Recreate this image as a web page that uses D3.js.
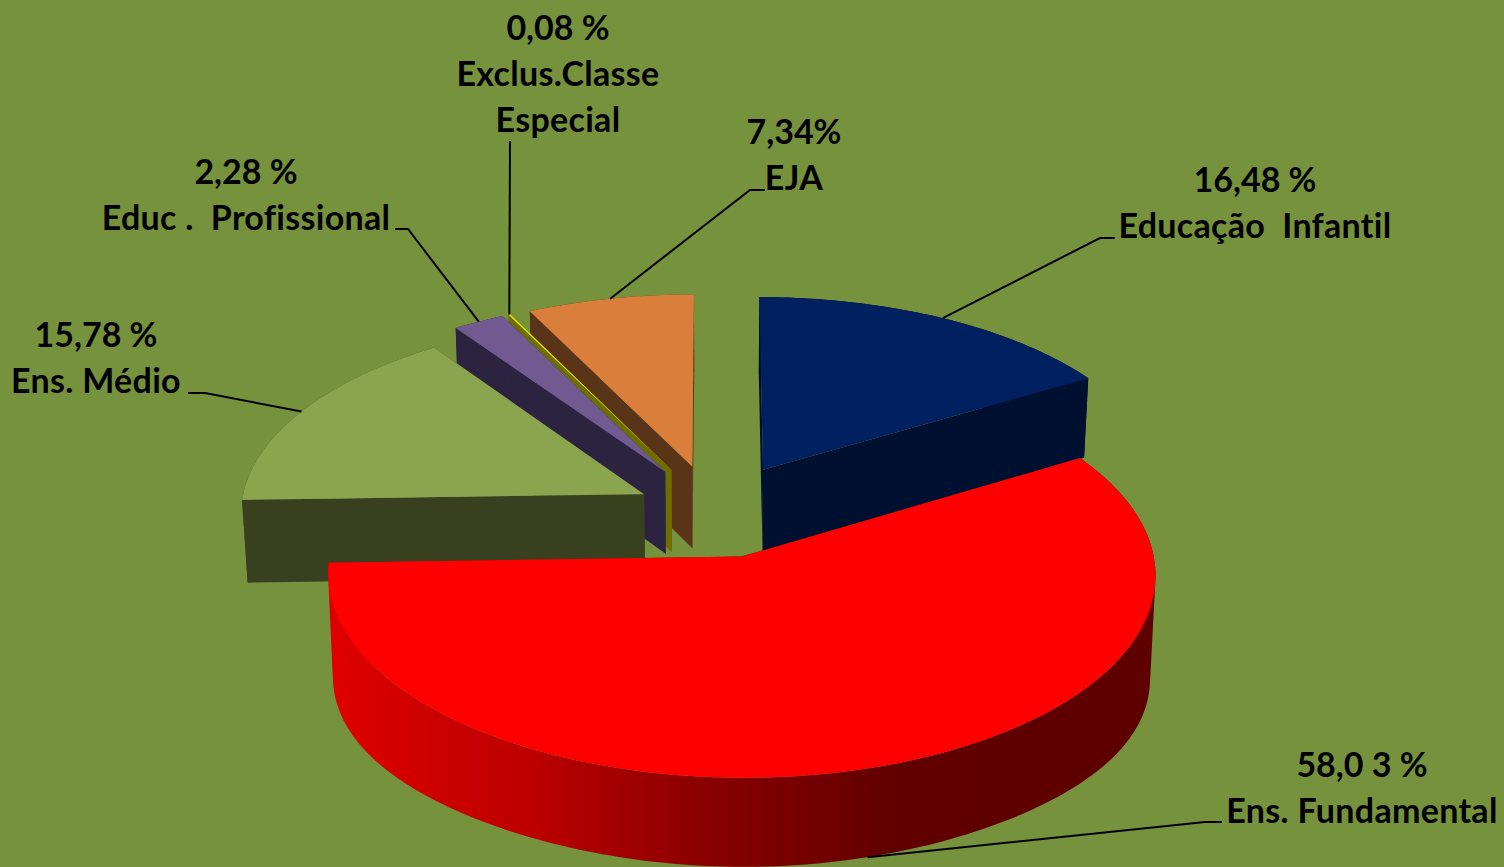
<!DOCTYPE html>
<html>
<head>
<meta charset="utf-8">
<script src="https://cdn.jsdelivr.net/npm/d3@7"></script>
<style>
    html, body { margin: 0; padding: 0; background: #76923c; overflow: hidden; }
    text { font-family: Lato, "Open Sans", sans-serif; font-weight: 700; font-size: 34px; fill: #000; white-space: pre; font-variant-ligatures: none; }
    text.name { letter-spacing: 0.3px; }
</style>
</head>
<body>
<div id="chart"></div>
<script>
// 3d exploded pie, projected by hand since d3 has no 3d pie

const categories = ["Educação  Infantil", "Ens. Fundamental", "Ens. Médio", "Educ .  Profissional", "Exclus.Classe", "EJA"];
const shares = [16.48, 58.03, 15.78, 2.28, 0.08, 7.34];
const shareLabels = ["16,48 %", "58,0 3 %", "15,78 %", "2,28 %", "0,08 %", "7,34%"];

const topColors = ["#002060", "#ff0000", "#8aa54e", "#715a90", "#e8e800", "#d97f3b"];
const wallColors = ["#001030", "url(#redWall)", "#38401f", "#2b2340", "#6e6e00", "#5a3418"];

const width = 1504, height = 867;
const centerX = 714, centerY = 511;
const radiusX = 404, radiusY = 194, depth = 84;
const perspective = 0.0854, depthShrink = 0.012;
const explosions = [0.25, 0.24, 0.195, 0.24, 0.24, 0.24];
const rimBulge = [0, 18, 0, 0, 0, 0]; // lower rim of the big slice is flatter than an ellipse
const labelGap = 46;

// far to near, red one has to land on top
const drawOrder = [5, 4, 3, 2, 0, 1];

// where each label and leader elbow sit
const labelSpots = [
    { x: 1255, y: 192, elbow: [[1100, 238], [1115, 238]], z: 0 },
    { x: 1362, y: 777, elbow: [[1205, 822], [1222, 822]], z: 1 },
    { x: 96, y: 347, elbow: [[205, 393], [188, 393]], z: 0 },
    { x: 246, y: 184, elbow: [[408, 229], [395, 229]], z: 0 },
    { x: 558, y: 40, elbow: [[510, 141]], z: 0, extraLine: "Especial" },
    { x: 794, y: 144, elbow: [[750, 190], [765, 190]], z: 0 }
];

const pie = d3.pie().sort(null).value(d => d);
const slices = pie(shares);

function project(u, v, z, extra = 0) {
    const s = 1 / (1 - perspective * v + depthShrink * z);
    return [centerX + radiusX * u * s, centerY + (radiusY * v + depth * z + extra) * s];
}

function offsetOf(d) {
    const mid = (d.startAngle + d.endAngle) / 2;
    const e = explosions[d.index];
    return [e * Math.sin(mid), -e * Math.cos(mid)];
}

function rimPoint(d, angle, z) {
    const [ou, ov] = offsetOf(d);
    const extra = z * rimBulge[d.index] * Math.pow(Math.sin(angle), 4);
    return project(ou + Math.sin(angle), ov - Math.cos(angle), z, extra);
}

function apexPoint(d, z) {
    const [ou, ov] = offsetOf(d);
    return project(ou, ov, z);
}

function arcAngles(d) {
    const n = Math.max(2, Math.ceil((d.endAngle - d.startAngle) / 0.02));
    return d3.range(n + 1).map(i => d.startAngle + (d.endAngle - d.startAngle) * i / n);
}

const line = d3.line().curve(d3.curveLinear);
const closed = pts => line(pts) + "Z";

// every strip wound the same way, so nonzero fill gives the union with no seams
function stripPath(d, a, b) {
    const quad = [rimPoint(d, a, 0), rimPoint(d, b, 0), rimPoint(d, b, 1), rimPoint(d, a, 1)];
    return closed(d3.polygonArea(quad) < 0 ? quad.reverse() : quad);
}

const svg = d3.select("#chart")
    .append("svg")
    .attr("width", width)
    .attr("height", height)
    .style("display", "block")
    .style("background", "#76923c");

const grad = svg.append("defs").append("linearGradient")
    .attr("id", "redWall")
    .attr("gradientUnits", "userSpaceOnUse")
    .attr("x1", 335).attr("y1", 0)
    .attr("x2", 1150).attr("y2", 0);

[[0, "#de0000"], [0.24, "#bc0000"], [0.45, "#8b0000"], [0.69, "#600000"], [1, "#5e0000"]].forEach(([o, c]) => {
    grad.append("stop").attr("offset", o).attr("stop-color", c);
});

const sliceGroups = svg.append("g").attr("class", "slices")
    .selectAll("g")
    .data(drawOrder.map(i => slices[i]))
    .enter()
    .append("g");

// radial walls first
sliceGroups.selectAll(".radial")
    .data(d => [d.startAngle, d.endAngle].map(a => ({ d, a })))
    .enter()
    .append("path")
    .attr("class", "radial")
    .attr("d", o => closed([apexPoint(o.d, 0), rimPoint(o.d, o.a, 0), rimPoint(o.d, o.a, 1), apexPoint(o.d, 1)]))
    .attr("fill", o => wallColors[o.d.index]);

// outer curved wall
sliceGroups.append("path")
    .attr("d", d => d3.pairs(arcAngles(d)).map(([a, b]) => stripPath(d, a, b)).join(""))
    .attr("fill", d => wallColors[d.index]);

// top face
sliceGroups.append("path")
    .attr("d", d => closed([apexPoint(d, 0)].concat(arcAngles(d).map(a => rimPoint(d, a, 0)))))
    .attr("fill", d => topColors[d.index]);

// leaders
svg.append("g").selectAll("path")
    .data(slices)
    .enter()
    .append("path")
    .attr("d", d => {
        const mid = (d.startAngle + d.endAngle) / 2;
        return line([rimPoint(d, mid, labelSpots[d.index].z)].concat(labelSpots[d.index].elbow));
    })
    .attr("fill", "none")
    .attr("stroke", "#000")
    .attr("stroke-width", 2);

// labels
const labels = svg.append("g").selectAll("g")
    .data(slices)
    .enter()
    .append("g");

labels.each(function (d) {
    const spot = labelSpots[d.index];
    const lines = [shareLabels[d.index], categories[d.index]];
    if (spot.extraLine) lines.push(spot.extraLine);
    d3.select(this).selectAll("text")
        .data(lines)
        .enter()
        .append("text")
        .attr("class", (_, i) => i > 0 ? "name" : "share")
        .attr("x", spot.x)
        .attr("y", (_, i) => spot.y + i * labelGap)
        .attr("text-anchor", "middle")
        .text(t => t);
});
</script>
</body>
</html>
